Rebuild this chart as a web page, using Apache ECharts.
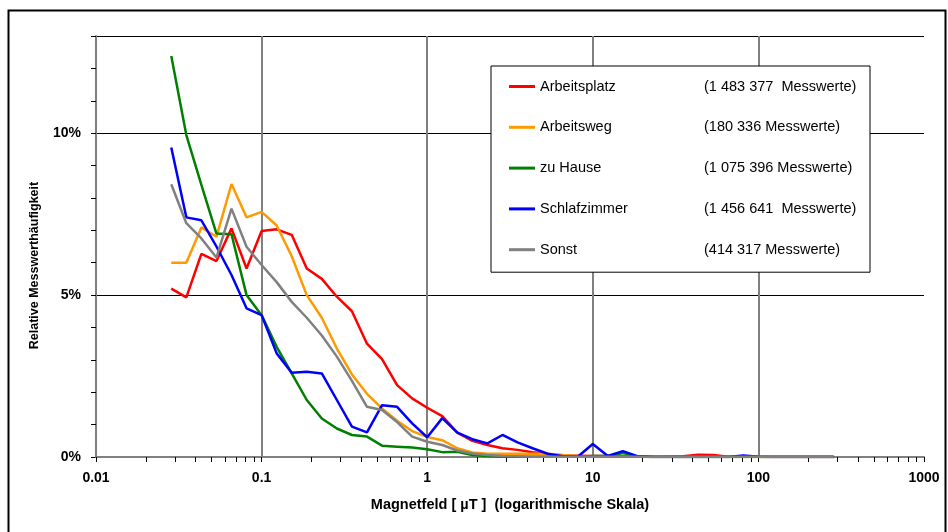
<!DOCTYPE html>
<html lang="de">
<head>
<meta charset="UTF-8">
<title>Relative Messwerthäufigkeit</title>
<script src="https://cdn.jsdelivr.net/npm/echarts@6/dist/echarts.min.js"></script>
<style>
    html,body{margin:0;height:100%;background:#fff;}
    #main{width:948px;height:532px;}
</style>
</head>
<body>
<div id="main"></div>
<script>
// Klassenmitten Magnetfeld (µT), 11 Klassen pro Dekade
var feld = [0.02848, 0.03511, 0.04329, 0.05337, 0.06579, 0.08111,
    0.1, 0.1233, 0.1520, 0.1874, 0.2310, 0.2848, 0.3511, 0.4329, 0.5337, 0.6579, 0.8111,
    1, 1.233, 1.520, 1.874, 2.310, 2.848, 3.511, 4.329, 5.337, 6.579, 8.111,
    10, 12.33, 15.20, 18.74, 23.10, 28.48, 35.11, 43.29, 53.37, 65.79, 81.11,
    100, 123.3, 152.0, 187.4, 231.0, 284.8];

// relative Häufigkeit in %
var arbeitsplatz = [5.2, 4.93, 6.27, 6.05, 7.06, 5.82, 6.98, 7.03, 6.86, 5.82, 5.5, 4.95, 4.5, 3.5, 3.02, 2.22, 1.81,
    1.52, 1.26, 0.75, 0.5, 0.37, 0.27, 0.22, 0.15, 0.09, 0.05, 0.04,
    0.03, 0.03, 0.02, 0.02, 0.01, 0.01, 0.02, 0.07, 0.06, 0.01, 0.01, 0.01, 0, 0, 0, 0, 0];
var arbeitsweg = [6.0, 6.0, 7.09, 6.8, 8.43, 7.4, 7.57, 7.15, 6.2, 5.0, 4.3, 3.35, 2.55, 1.95, 1.5, 1.12, 0.8,
    0.62, 0.52, 0.27, 0.14, 0.1, 0.1, 0.1, 0.1, 0.1, 0.06, 0.02,
    0.01, 0, 0, 0, 0, 0, 0, 0, 0, 0, 0, 0, 0, 0, 0, 0, 0];
var zuHause = [12.38, 9.94, 8.4, 6.9, 6.88, 5.0, 4.38, 3.4, 2.58, 1.76, 1.19, 0.88, 0.68, 0.63, 0.35, 0.32, 0.29,
    0.24, 0.15, 0.16, 0.06, 0.03, 0.01, 0.01, 0.01, 0.01, 0.01, 0.01,
    0.03, 0.03, 0.12, 0.02, 0, 0, 0, 0, 0, 0, 0, 0, 0, 0, 0, 0, 0];
var schlafzimmer = [9.56, 7.4, 7.31, 6.5, 5.62, 4.59, 4.38, 3.2, 2.6, 2.63, 2.58, 1.76, 0.94, 0.76, 1.6, 1.55, 1.04,
    0.61, 1.2, 0.75, 0.55, 0.42, 0.68, 0.45, 0.27, 0.1, 0.02, 0.01,
    0.4, 0.03, 0.18, 0.02, 0, 0, 0, 0, 0, 0, 0.05, 0.01, 0, 0, 0, 0, 0];
var sonst = [8.42, 7.22, 6.75, 6.16, 7.67, 6.49, 5.93, 5.4, 4.79, 4.3, 3.75, 3.1, 2.35, 1.55, 1.45, 1.08, 0.63,
    0.47, 0.37, 0.2, 0.11, 0.06, 0.03, 0.02, 0.01, 0.01, 0.01, 0.01,
    0.01, 0.01, 0.01, 0.01, 0.01, 0.01, 0.01, 0.01, 0.01, 0.01, 0.01, 0.01, 0.01, 0.01, 0.01, 0.01, 0.01];

var namen = ['Arbeitsplatz', 'Arbeitsweg', 'zu Hause', 'Schlafzimmer', 'Sonst'];
var anzahl = ['(1 483 377  Messwerte)', '(180 336 Messwerte)', '(1 075 396 Messwerte)',
    '(1 456 641  Messwerte)', '(414 317 Messwerte)'];
var farben = ['#ff0000', '#ff9900', '#008000', '#0000ff', '#808080'];
var werte = [arbeitsplatz, arbeitsweg, zuHause, schlafzimmer, sonst];

var xLabels = ['0.01', '0.1', '1', '10', '100', '1000'];
var xDekaden = [0.01, 0.1, 1, 10, 100, 1000];

// Teilstriche 1..9 je Dekade
var xTicks = [];
for (var d = 0; d < xDekaden.length - 1; d++) {
    for (var m = 1; m < 10; m++) {
        xTicks.push(+(xDekaden[d] * m).toPrecision(3));
    }
}
xTicks.push(1000);

var font = 'Liberation Sans, Arial, sans-serif';

var series = [];
for (var s = 0; s < namen.length; s++) {
    series.push({
        name: namen[s],
        type: 'line',
        xAxisIndex: 0,
        showSymbol: false,
        symbol: 'none',
        color: farben[s],
        lineStyle: {width: 2.5, color: farben[s]},
        data: feld.map(function (x, i) { return [x, werte[s][i]]; })
    });
}

var myChart = echarts.init(document.getElementById('main'));
var option = {
    animation: false,
    backgroundColor: '#fff',
    grid: {left: 96, right: 24, top: 36, bottom: 75},
    graphic: [{
        type: 'rect',
        left: 6, top: 8,
        shape: {width: 937, height: 540},
        style: {fill: 'none', stroke: '#000', lineWidth: 2},
        silent: true
    }],
    legend: {
        orient: 'vertical',
        left: 491, top: 66,
        padding: [13, 10, 15, 18],
        itemGap: 25.8,
        itemWidth: 26, itemHeight: 3,
        icon: 'rect',
        backgroundColor: '#fff',
        borderColor: '#000',
        borderWidth: 1,
        data: namen,
        formatter: function (name) {
            return '{a|' + name + '}{b|' + anzahl[namen.indexOf(name)] + '}';
        },
        textStyle: {
            fontFamily: font, fontSize: 14.5, color: '#000',
            rich: {
                a: {width: 164, fontFamily: font, fontSize: 14.5, color: '#000', lineHeight: 15},
                b: {width: 156, fontFamily: font, fontSize: 14.5, color: '#000', lineHeight: 15}
            }
        }
    },
    xAxis: [{
        type: 'log',
        logBase: 10,
        min: 0.01, max: 1000,
        name: 'Magnetfeld [ µT ]  (logarithmische Skala)',
        nameLocation: 'middle',
        nameGap: 40,
        nameTextStyle: {fontFamily: font, fontSize: 14.5, fontWeight: 'bold', color: '#000'},
        axisLine: {lineStyle: {color: '#808080', width: 2}},
        axisTick: {show: true, length: 5, customValues: xTicks, lineStyle: {color: '#000'}},
        axisLabel: {
            fontFamily: font, fontSize: 14, fontWeight: 'bold', color: '#000', margin: 14,
            customValues: xDekaden,
            formatter: function (v) {
                var i = xDekaden.indexOf(+(+v).toPrecision(3));
                return i >= 0 ? xLabels[i] : '';
            }
        },
        splitLine: {show: false},
        z: 3
    }, {
        // nur für die senkrechten Gitterlinien je Dekade
        type: 'log',
        logBase: 10,
        min: 0.01, max: 1000,
        position: 'bottom',
        axisLine: {show: false},
        axisTick: {show: false},
        axisLabel: {show: false},
        splitLine: {show: true, showMinLine: false, showMaxLine: false,
            lineStyle: {color: '#808080', width: 2}}
    }],
    yAxis: [{
        type: 'value',
        min: 0, max: 13, interval: 1,
        name: 'Relative Messwerthäufigkeit',
        nameLocation: 'middle',
        nameGap: 55,
        nameTextStyle: {fontFamily: font, fontSize: 12.5, fontWeight: 'bold', color: '#000',
            padding: [0, 38, 0, 0]},
        axisLine: {show: true, lineStyle: {color: '#808080', width: 2}},
        axisTick: {show: true, length: 5, lineStyle: {color: '#000'}},
        axisLabel: {
            fontFamily: font, fontSize: 14, fontWeight: 'bold', color: '#000', margin: 15,
            formatter: function (v) { return v % 5 === 0 && v <= 10 ? v + '%' : ''; }
        },
        splitLine: {show: false}
    }, {
        type: 'value',
        min: 0, max: 13, interval: 5,
        axisLine: {show: false},
        axisTick: {show: false},
        axisLabel: {show: false},
        splitLine: {show: true, showMinLine: false, showMaxLine: true,
            lineStyle: {color: '#000', width: 1}}
    }],
    series: series
};
myChart.setOption(option);
</script>
</body>
</html>
